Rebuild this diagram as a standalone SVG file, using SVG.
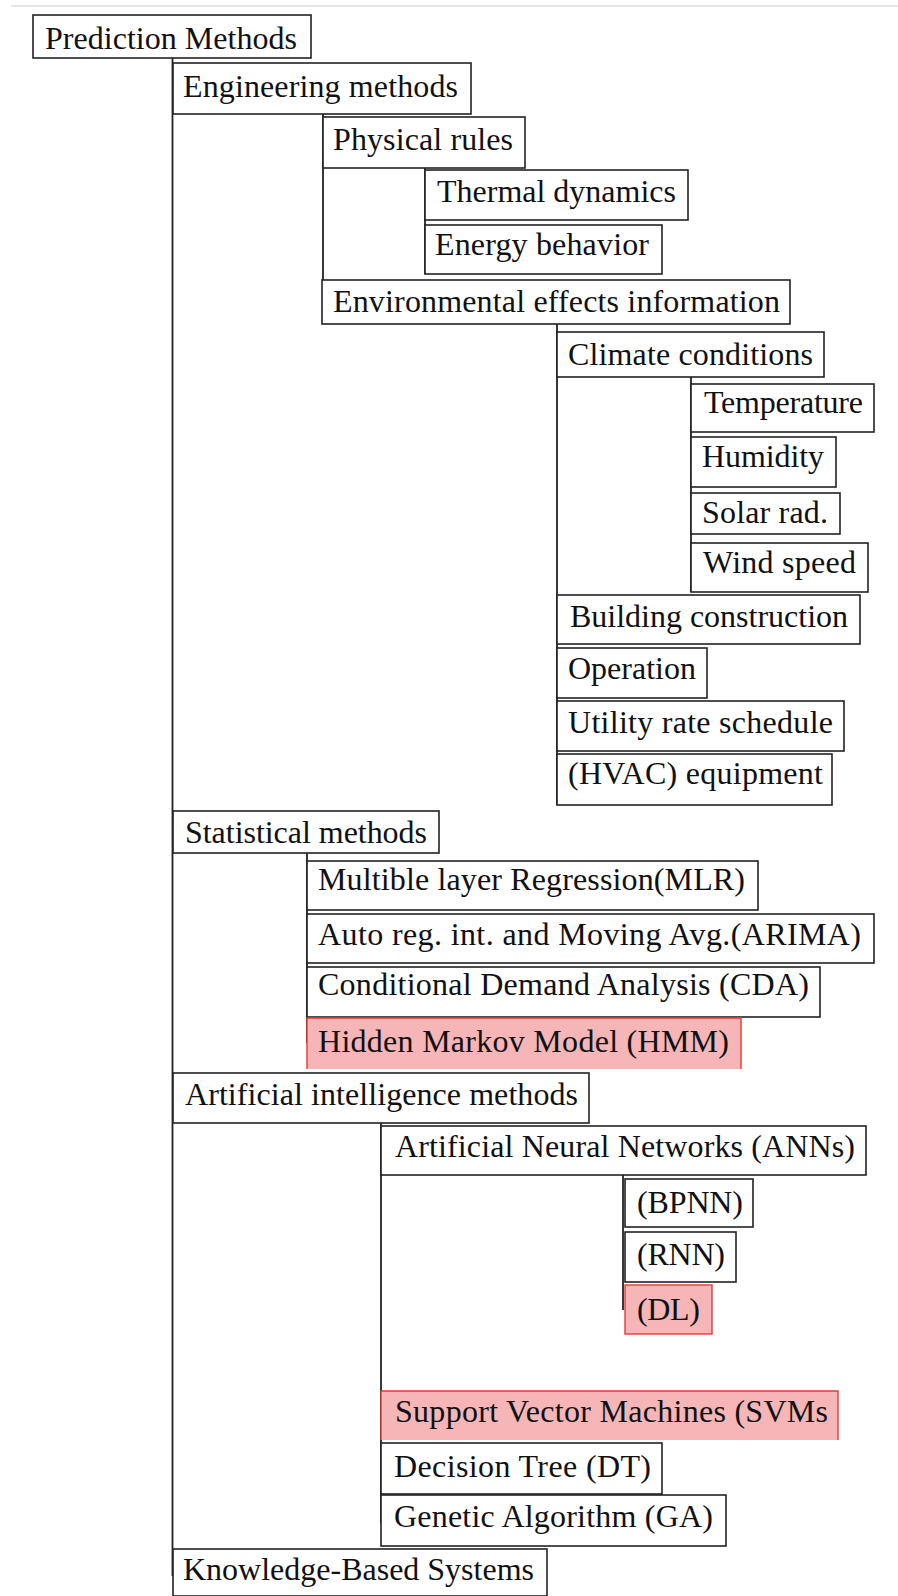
<svg xmlns="http://www.w3.org/2000/svg" width="898" height="1596" viewBox="0 0 898 1596">
<style>
.box{fill:#fff;stroke:#222;stroke-width:1.6}
.hl{fill:#f6b5b7;stroke:none}
.hlb{fill:none;stroke:#e53935;stroke-width:1.4}
.ln{stroke:#222;stroke-width:1.8;fill:none}
.lbl{font-family:"Liberation Serif","Times New Roman",serif;font-size:32px;fill:#111}
</style>
<rect x="0" y="0" width="898" height="1596" fill="#fff"/>
<line x1="11" y1="6" x2="898" y2="6" stroke="#e6e6e6" stroke-width="2"/>
<g id="connectors">
<line class="ln" x1="172.5" y1="58" x2="172.5" y2="1576"/>
<line class="ln" x1="323" y1="114" x2="323" y2="280"/>
<line class="ln" x1="425" y1="168" x2="425" y2="274"/>
<line class="ln" x1="557" y1="324" x2="557" y2="805"/>
<line class="ln" x1="691" y1="377" x2="691" y2="592"/>
<line class="ln" x1="307" y1="853" x2="307" y2="1043" stroke-width="2.6"/>
<line class="ln" x1="381" y1="1123" x2="381" y2="1523"/>
<line class="ln" x1="623" y1="1175" x2="623" y2="1310" stroke-width="2.6"/>
</g>
<g id="n-prediction"><rect class="box" x="33" y="15" width="278" height="43"/><text class="lbl" x="45" y="49" textLength="252">Prediction Methods</text></g>
<g id="n-engineering"><rect class="box" x="173" y="63" width="298" height="51"/><text class="lbl" x="183" y="97" textLength="275">Engineering methods</text></g>
<g id="n-physical"><rect class="box" x="323" y="117" width="202" height="51"/><text class="lbl" x="333" y="150" textLength="180">Physical rules</text></g>
<g id="n-thermal"><rect class="box" x="425" y="170" width="263" height="50"/><text class="lbl" x="437" y="202" textLength="239">Thermal dynamics</text></g>
<g id="n-energy"><rect class="box" x="425" y="225" width="237" height="49"/><text class="lbl" x="435" y="255" textLength="214">Energy behavior</text></g>
<g id="n-env"><rect class="box" x="322" y="280" width="468" height="44"/><text class="lbl" x="333" y="312" textLength="447">Environmental effects information</text></g>
<g id="n-climate"><rect class="box" x="557" y="332" width="267" height="45"/><text class="lbl" x="568" y="365" textLength="245">Climate conditions</text></g>
<g id="n-temperature"><rect class="box" x="691" y="384" width="183" height="48"/><text class="lbl" x="704" y="413" textLength="159">Temperature</text></g>
<g id="n-humidity"><rect class="box" x="691" y="437" width="145" height="50"/><text class="lbl" x="702" y="467" textLength="122">Humidity</text></g>
<g id="n-solar"><rect class="box" x="691" y="493" width="149" height="41"/><text class="lbl" x="702" y="523" textLength="126">Solar rad.</text></g>
<g id="n-wind"><rect class="box" x="691" y="543" width="177" height="49"/><text class="lbl" x="703" y="573" textLength="153">Wind speed</text></g>
<g id="n-building"><rect class="box" x="557" y="595" width="303" height="49"/><text class="lbl" x="570" y="627" textLength="278">Building construction</text></g>
<g id="n-operation"><rect class="box" x="557" y="648" width="150" height="50"/><text class="lbl" x="568" y="679" textLength="128">Operation</text></g>
<g id="n-utility"><rect class="box" x="557" y="701" width="287" height="50"/><text class="lbl" x="568" y="733" textLength="265">Utility rate schedule</text></g>
<g id="n-hvac"><rect class="box" x="557" y="754" width="275" height="51"/><text class="lbl" x="568" y="784" textLength="255">(HVAC) equipment</text></g>
<g id="n-statistical"><rect class="box" x="173" y="811" width="266" height="42"/><text class="lbl" x="185" y="843" textLength="242">Statistical methods</text></g>
<g id="n-mlr"><rect class="box" x="307" y="861" width="451" height="49"/><text class="lbl" x="318" y="890" textLength="427">Multible layer Regression(MLR)</text></g>
<g id="n-arima"><rect class="box" x="307" y="914" width="567" height="49"/><text class="lbl" x="318" y="945" textLength="543">Auto reg. int. and Moving Avg.(ARIMA)</text></g>
<g id="n-cda"><rect class="box" x="307" y="967" width="513" height="50"/><text class="lbl" x="318" y="995" textLength="491">Conditional Demand Analysis (CDA)</text></g>
<g id="n-hmm"><rect class="hl" x="307" y="1018" width="434" height="51"/><path class="hlb" d="M307,1069 V1018 H741 V1069"/><text class="lbl" x="318" y="1052" textLength="411">Hidden Markov Model (HMM)</text></g>
<g id="n-ai"><rect class="box" x="173" y="1073" width="416" height="50"/><text class="lbl" x="185" y="1105" textLength="393">Artificial intelligence methods</text></g>
<g id="n-ann"><rect class="box" x="381" y="1126" width="485" height="49"/><text class="lbl" x="395" y="1157" textLength="460">Artificial Neural Networks (ANNs)</text></g>
<g id="n-bpnn"><rect class="box" x="625" y="1179" width="128" height="48"/><text class="lbl" x="637" y="1213" textLength="106">(BPNN)</text></g>
<g id="n-rnn"><rect class="box" x="625" y="1232" width="111" height="50"/><text class="lbl" x="637" y="1265" textLength="88">(RNN)</text></g>
<g id="n-dl"><rect class="hl" x="625" y="1285" width="87" height="49"/><rect class="hlb" x="625" y="1285" width="87" height="49"/><text class="lbl" x="637" y="1320" textLength="63">(DL)</text></g>
<g id="n-svm"><rect class="hl" x="381" y="1391" width="457" height="49"/><path class="hlb" d="M381,1440 V1391 H838 V1440"/><text class="lbl" x="395" y="1422" textLength="433">Support Vector Machines (SVMs</text></g>
<g id="n-dt"><rect class="box" x="381" y="1443" width="281" height="51"/><text class="lbl" x="394" y="1477" textLength="257">Decision Tree (DT)</text></g>
<g id="n-ga"><rect class="box" x="381" y="1495" width="345" height="51"/><text class="lbl" x="394" y="1527" textLength="319">Genetic Algorithm (GA)</text></g>
<g id="n-knowledge"><rect class="box" x="173" y="1549" width="374" height="47"/><text class="lbl" x="183" y="1580" textLength="351">Knowledge-Based Systems</text></g>
</svg>
